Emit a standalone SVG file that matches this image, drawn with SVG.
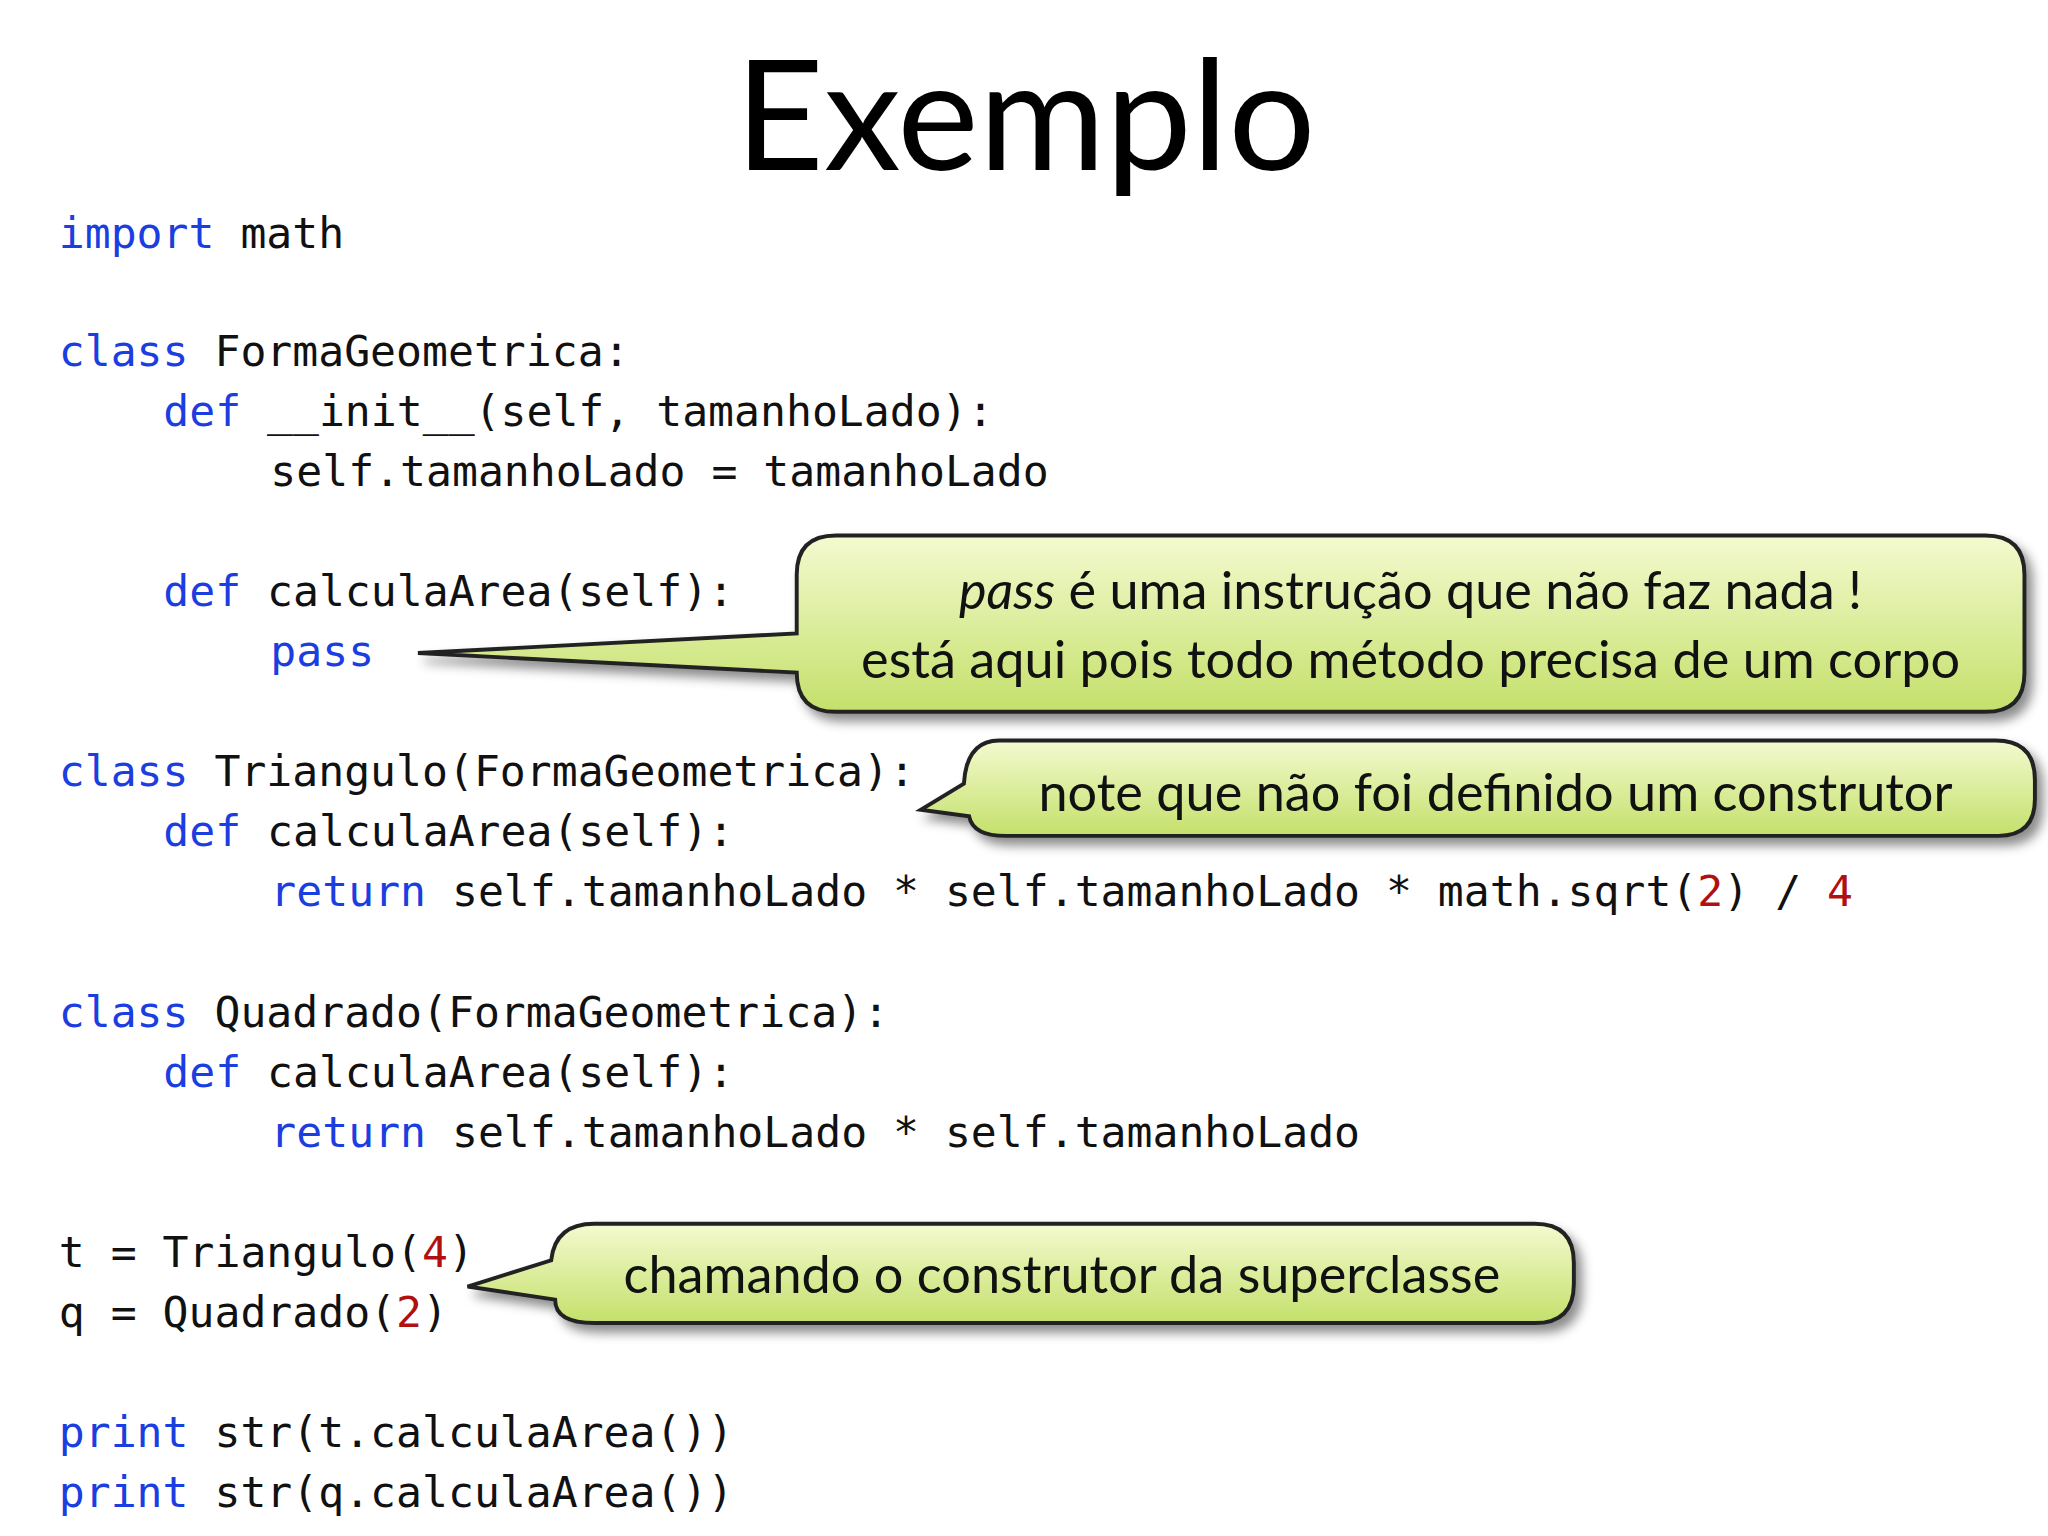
<svg xmlns="http://www.w3.org/2000/svg" width="2048" height="1536" viewBox="0 0 2048 1536">
<defs>
<linearGradient id="g" x1="0" y1="0" x2="0" y2="1"><stop offset="0" stop-color="#f4fad0"/><stop offset="1" stop-color="#c4e06a"/></linearGradient>
<filter id="sh" x="-5%" y="-20%" width="115%" height="150%"><feDropShadow dx="5" dy="6" stdDeviation="4" flood-color="#000" flood-opacity="0.45"/></filter>
</defs>
<style>
.c{font-family:"DejaVu Sans Mono","Liberation Mono",monospace;font-size:33px;fill:#111;white-space:pre}
.k{fill:#1a3ee0}.n{fill:#b01010}
.b{fill:url(#g);stroke:#222;stroke-width:3;filter:url(#sh)}
.t{font-family:"Lato","Open Sans",sans-serif;font-size:40px;fill:#111;text-anchor:middle}
</style>
<rect width="2048" height="1536" fill="#fff"/>
<g transform="scale(1.3061)">
<text x="785" y="130" font-family="Lato,'Open Sans',sans-serif" font-size="118" text-anchor="middle" fill="#000">Exemplo</text>
<g id="code">
<text class="c" x="45" y="190"><tspan class="k">import</tspan> math</text>
<text class="c" x="45" y="280"><tspan class="k">class</tspan> FormaGeometrica:</text>
<text class="c" x="125" y="326"><tspan class="k">def</tspan> __init__(self, tamanhoLado):</text>
<text class="c" x="207" y="372">self.tamanhoLado = tamanhoLado</text>
<text class="c" x="125" y="464"><tspan class="k">def</tspan> calculaArea(self):</text>
<text class="c" x="207" y="510"><tspan class="k">pass</tspan></text>
<text class="c" x="45" y="602"><tspan class="k">class</tspan> Triangulo(FormaGeometrica):</text>
<text class="c" x="125" y="648"><tspan class="k">def</tspan> calculaArea(self):</text>
<text class="c" x="207" y="694"><tspan class="k">return</tspan> self.tamanhoLado * self.tamanhoLado * math.sqrt(<tspan class="n">2</tspan>) / <tspan class="n">4</tspan></text>
<text class="c" x="45" y="786"><tspan class="k">class</tspan> Quadrado(FormaGeometrica):</text>
<text class="c" x="125" y="832"><tspan class="k">def</tspan> calculaArea(self):</text>
<text class="c" x="207" y="878"><tspan class="k">return</tspan> self.tamanhoLado * self.tamanhoLado</text>
<text class="c" x="45" y="970">t = Triangulo(<tspan class="n">4</tspan>)</text>
<text class="c" x="45" y="1016">q = Quadrado(<tspan class="n">2</tspan>)</text>
<text class="c" x="45" y="1108"><tspan class="k">print</tspan> str(t.calculaArea())</text>
<text class="c" x="45" y="1154"><tspan class="k">print</tspan> str(q.calculaArea())</text>
</g>
<g id="callout1">
<path class="b" d="M640,410 H1520 Q1550,410 1550,440 V515 Q1550,545 1520,545 H640 Q610,545 610,515 L320,500 L610,485 V440 Q610,410 640,410 Z"/>
<text class="t" x="1080" y="466"><tspan font-style="italic">pass</tspan> é uma instrução que não faz nada !</text>
<text class="t" x="1080" y="519">está aqui pois todo método precisa de um corpo</text>
</g>
<g id="callout2">
<path class="b" d="M765,567 H1528 Q1558,567 1558,597 V612 Q1558,640 1530,640 H770 Q745,640 742,625 L705,620 L738,600 Q740,567 765,567 Z"/>
<text class="t" x="1145" y="621">note que não foi definido um construtor</text>
</g>
<g id="callout3">
<path class="b" d="M455,937 H1175 Q1205,937 1205,967 V983 Q1205,1013 1175,1013 H455 Q425,1013 425,995 L358,985 L422,965 Q425,937 455,937 Z"/>
<text class="t" x="813" y="990">chamando o construtor da superclasse</text>
</g>
</g>
</svg>
